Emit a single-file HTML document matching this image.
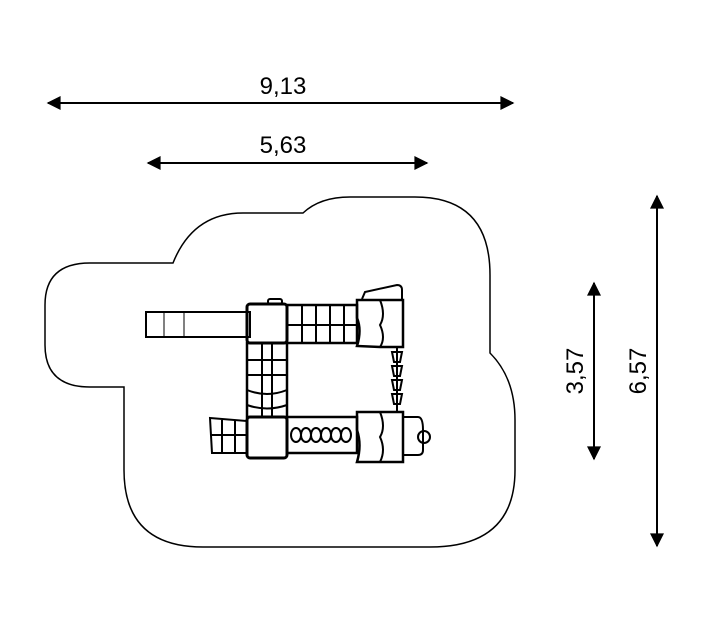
<!DOCTYPE html><html><head><style>body{margin:0;background:#fff}svg{display:block}text{font-family:"Liberation Sans",sans-serif;font-size:24px;fill:#000}</style></head><body>
<svg width="709" height="630" viewBox="0 0 709 630" xmlns="http://www.w3.org/2000/svg">
<defs><marker id="a" viewBox="0 0 10 10" refX="9" refY="5" markerWidth="18" markerHeight="14" markerUnits="userSpaceOnUse" orient="auto-start-reverse"><path d="M0,0L10,5L0,10Z"/></marker></defs>
<g stroke="#000" stroke-width="2" marker-start="url(#a)" marker-end="url(#a)">
<line x1="48" y1="103" x2="513" y2="103"/>
<line x1="148" y1="163" x2="427" y2="163"/>
<line x1="657" y1="196" x2="657" y2="546"/>
<line x1="594" y1="283" x2="594" y2="459"/>
</g>
<text x="283" y="94" text-anchor="middle">9,13</text>
<text x="283" y="153" text-anchor="middle">5,63</text>
<text transform="translate(646,371) rotate(-90)" text-anchor="middle">6,57</text>
<text transform="translate(583,371) rotate(-90)" text-anchor="middle">3,57</text>
<path d="M90,387 L124,387 L124,470 Q124,547 203,547 L430,547 Q515,547 515,470 L515,420 Q515,378 490,353 L490,275 Q490,197 415,197 L350,197 Q320,197 303,213 L243,213 Q193,213 173,263 L90,263 Q45,263 45,305 L45,345 Q45,387 90,387 Z" fill="none" stroke="#000" stroke-width="1.5"/>
<g fill="none" stroke="#000" stroke-width="2">
<rect x="146" y="312" width="104" height="25"/><line x1="164" y1="312" x2="164" y2="337" stroke-width="1"/><line x1="184" y1="312" x2="184" y2="337" stroke-width="1"/>
<rect x="247" y="304" width="40" height="39" rx="3" stroke-width="3"/>
<rect x="268" y="299" width="14" height="5" rx="2"/>
<rect x="287" y="305" width="70" height="38" stroke-width="2.5"/><line x1="287" y1="325" x2="357" y2="325"/>
<line x1="302" y1="305" x2="302" y2="343"/><line x1="316" y1="305" x2="316" y2="343"/><line x1="330" y1="305" x2="330" y2="343"/><line x1="344" y1="305" x2="344" y2="343"/>
<path d="M362,299 L365,292 L397,285 Q402,285 402,290 L402,300"/>
<path d="M357,300 L380,300 L403,300 L403,347 L380,347 L357,346 Q362,330 357,318 Z" stroke-width="2.5"/><path d="M380,300 Q386,315 380,325 Q386,338 380,347"/>
<rect x="247" y="343" width="40" height="74" stroke-width="2.5"/><line x1="262" y1="343" x2="262" y2="417"/><line x1="272" y1="343" x2="272" y2="417"/>
<path d="M247,360 H287 M247,375 H287 M247,390 Q267,398 287,390 M247,405 Q267,412 287,405"/>
<rect x="247" y="417" width="40" height="41" rx="3" stroke-width="3"/>
<rect x="287" y="417" width="70" height="36" stroke-width="2.5"/>
<path d="M210,418 L247,421 L247,453 L212,453 Z"/><path d="M222,420 V453 M235,420 V453 M211,435 H247"/>
<path d="M357,412 L403,412 L403,462 L357,462 Q362,445 357,430 Z" stroke-width="2.5"/><path d="M380,412 Q386,427 380,437 Q386,450 380,462"/>
<path d="M403,417 L418,417 Q423,417 423,430 L423,450 Q423,455 418,455 L403,455"/>
<circle cx="424" cy="437" r="6"/>
<line x1="397" y1="348" x2="397" y2="412"/>
</g>
<g fill="none" stroke="#000" stroke-width="2">
<path d="M392,352 h10 l-2,10 h-6 z M392,366 h10 l-2,10 h-6 z M392,380 h10 l-2,10 h-6 z M392,394 h10 l-2,10 h-6 z"/>
<ellipse cx="296" cy="435" rx="5" ry="7"/><ellipse cx="306" cy="435" rx="5" ry="7"/><ellipse cx="316" cy="435" rx="5" ry="7"/><ellipse cx="326" cy="435" rx="5" ry="7"/><ellipse cx="336" cy="435" rx="5" ry="7"/><ellipse cx="346" cy="435" rx="5" ry="7"/>
</g>
</svg></body></html>
